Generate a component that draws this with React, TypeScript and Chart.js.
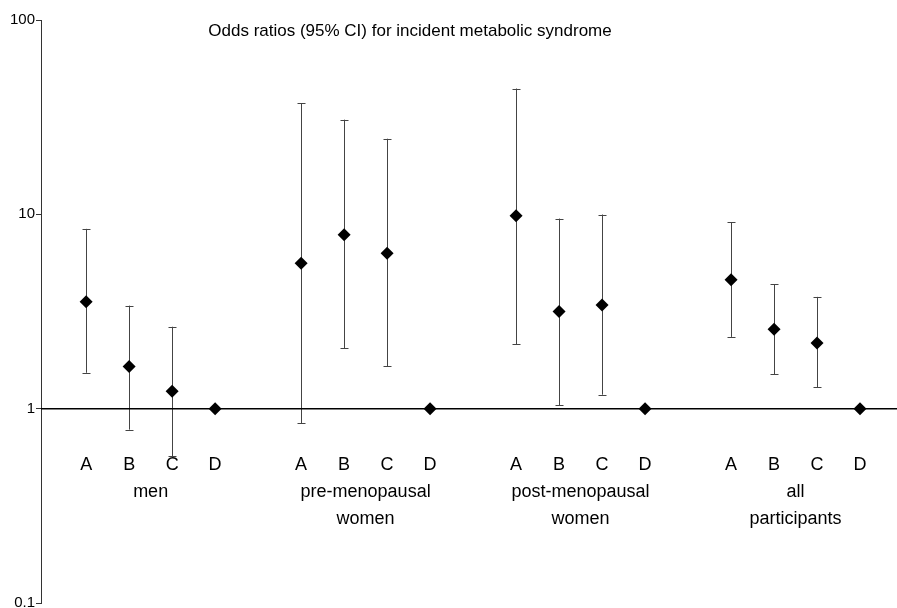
import React, { useEffect, useRef } from 'react';
import { Chart, registerables } from 'chart.js';
Chart.register(...registerables);

const titleText = 'Odds ratios (95% CI) for incident metabolic syndrome';
const categories = ['A', 'B', 'C', 'D'];
const groupLabels = [['men'], ['pre-menopausal', 'women'], ['post-menopausal', 'women'], ['all', 'participants']];

const oddsMen = [3.55, 1.65, 1.23, 1];
const oddsPre = [5.6, 7.84, 6.31, 1];
const oddsPost = [9.82, 3.16, 3.42, 1];
const oddsAll = [4.6, 2.56, 2.18, 1];

const lowerMen = [1.53, 0.78, 0.57, null];
const lowerPre = [0.84, 2.04, 1.65, null];
const lowerPost = [2.14, 1.04, 1.18, null];
const lowerAll = [2.34, 1.5, 1.29, null];

const upperMen = [8.42, 3.39, 2.64, null];
const upperPre = [37.4, 30.7, 24.5, null];
const upperPost = [44.4, 9.51, 9.98, null];
const upperAll = [9.12, 4.37, 3.76, null];

const yTicks = [0.1, 1, 10, 100];
const refValue = 1;

const odds = [oddsMen, oddsPre, oddsPost, oddsAll];
const lowers = [lowerMen, lowerPre, lowerPost, lowerAll];
const uppers = [upperMen, upperPre, upperPost, upperAll];

const FONT = '"Liberation Sans", Arial, Helvetica, sans-serif';

type Pt = { x: number; y: number; lo: number | null; hi: number | null; cat: string };

const points: Pt[] = [];
odds.forEach((arr, g) => {
  arr.forEach((v, c) => {
    points.push({ x: g * 5 + c + 1, y: v, lo: lowers[g][c], hi: uppers[g][c], cat: categories[c] });
  });
});

const X_MIN = -0.05;
const X_MAX = 19.86;

const errorBarPlugin = {
  id: 'errorBars',
  beforeDatasetsDraw(chart: any) {
    const { ctx, scales } = chart;
    const xs = scales.x;
    const ys = scales.y;
    ctx.save();
    ctx.strokeStyle = '#444';
    ctx.lineWidth = 1;
    points.forEach((p) => {
      if (p.lo == null || p.hi == null) return;
      const px = Math.round(xs.getPixelForValue(p.x)) + 0.5;
      const yl = ys.getPixelForValue(p.lo);
      const yh = ys.getPixelForValue(p.hi);
      ctx.beginPath();
      ctx.moveTo(px, yl);
      ctx.lineTo(px, yh);
      ctx.moveTo(px - 4, Math.round(yl) + 0.5);
      ctx.lineTo(px + 4, Math.round(yl) + 0.5);
      ctx.moveTo(px - 4, Math.round(yh) + 0.5);
      ctx.lineTo(px + 4, Math.round(yh) + 0.5);
      ctx.stroke();
    });
    ctx.restore();
  },
};

const labelsPlugin = {
  id: 'groupLabels',
  afterDraw(chart: any) {
    const { ctx, scales } = chart;
    const xs = scales.x;
    const ys = scales.y;
    const base = ys.getPixelForValue(refValue);
    ctx.save();
    ctx.fillStyle = '#000';
    ctx.textAlign = 'center';
    ctx.textBaseline = 'middle';
    ctx.font = `18px ${FONT}`;
    points.forEach((p) => {
      ctx.fillText(p.cat, xs.getPixelForValue(p.x), base + 56);
    });
    groupLabels.forEach((lines, g) => {
      const cx = xs.getPixelForValue(g * 5 + 2.5);
      lines.forEach((l, i) => {
        ctx.fillText(l, cx, base + 83 + i * 27);
      });
    });
    ctx.font = `17px ${FONT}`;
    ctx.fillText(titleText, 410, 31);
    ctx.restore();
  },
};

export default function App() {
  const ref = useRef<HTMLCanvasElement>(null);
  useEffect(() => {
    document.body.style.margin = '0';
    const chart = new Chart(ref.current!, {
      type: 'scatter',
      data: {
        datasets: [
          {
            type: 'line',
            data: [
              { x: X_MIN, y: refValue },
              { x: X_MAX, y: refValue },
            ],
            borderColor: '#000',
            borderWidth: 1.5,
            pointRadius: 0,
            order: 2,
          } as any,
          {
            data: points.map((p) => ({ x: p.x, y: p.y })),
            pointStyle: 'rectRot',
            pointRadius: 6.5,
            backgroundColor: '#000',
            borderColor: '#000',
            borderWidth: 0,
            order: 1,
          },
        ],
      },
      options: {
        animation: false,
        responsive: false,
        layout: { autoPadding: false, padding: { left: 0, right: 0, top: 20, bottom: 5 } },
        plugins: { legend: { display: false }, tooltip: { enabled: false }, title: { display: false } },
        scales: {
          x: { type: 'linear', min: X_MIN, max: X_MAX, display: false, bounds: 'data' },
          y: {
            type: 'logarithmic',
            min: 0.1,
            max: 100,
            afterBuildTicks: (scale: any) => {
              scale.ticks = yTicks.map((v) => ({ value: v }));
            },
            afterFit: (scale: any) => {
              scale.width = 41;
              scale.paddingBottom = 0;
              scale.paddingTop = 0;
            },
            ticks: {
              color: '#000',
              font: { family: FONT, size: 15, lineHeight: 0.7 },
              padding: 1,
              callback: (v: any) => String(v),
            },
            grid: { drawOnChartArea: false, drawTicks: true, tickLength: 5, color: '#333' },
            border: { display: true, color: '#333', width: 1 },
          },
        },
      },
      plugins: [errorBarPlugin, labelsPlugin],
    });
    return () => chart.destroy();
  }, []);
  return (
    <div style={{ width: 897, height: 608, background: '#fff' }}>
      <canvas ref={ref} width={897} height={608} style={{ display: 'block' }} />
    </div>
  );
}
